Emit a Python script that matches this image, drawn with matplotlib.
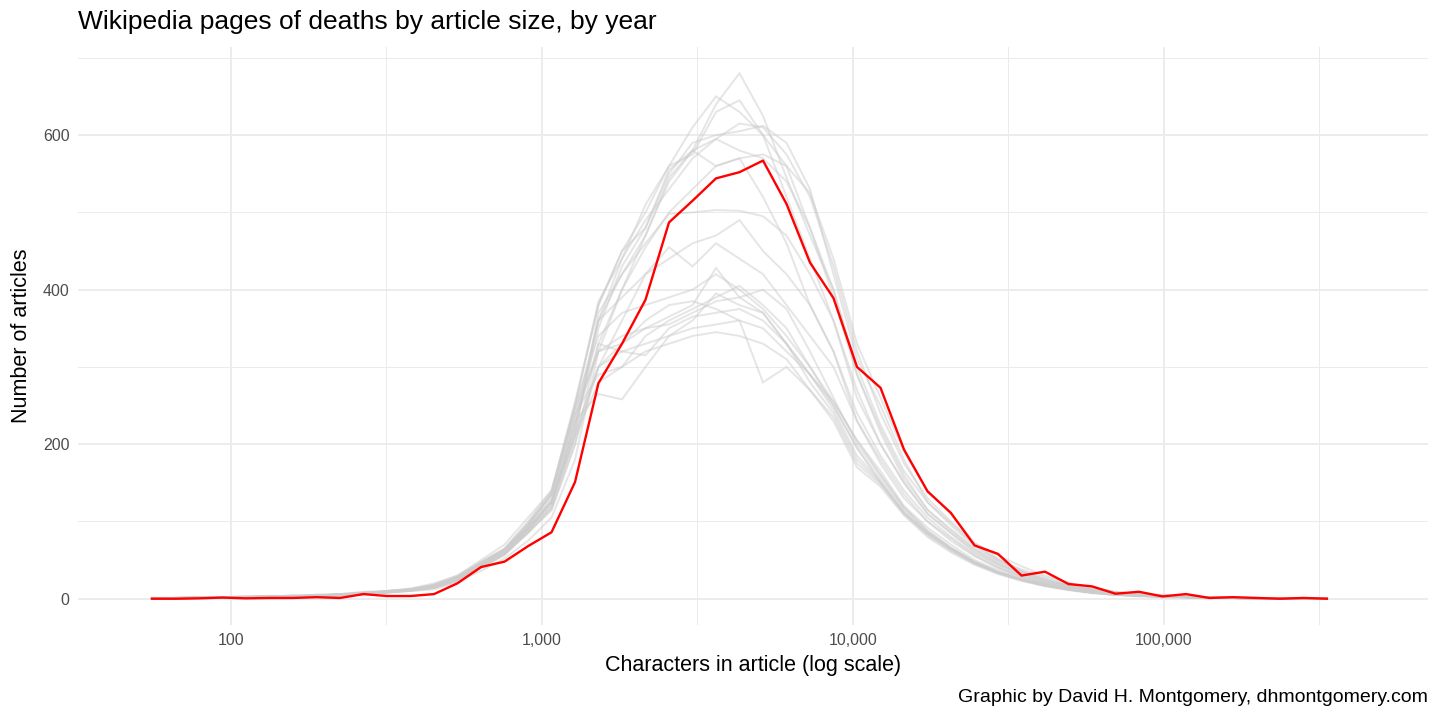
import matplotlib
matplotlib.use("Agg")
import matplotlib.pyplot as plt
from matplotlib.ticker import FixedLocator, NullFormatter

plt.rcParams['font.family'] = ['Liberation Sans', 'DejaVu Sans']

# Bin centres (characters in article)
chars = [55.7, 66.3, 78.9, 93.9, 111.7, 133.0, 158.2, 188.3, 224.1, 266.7,
         317.4, 377.8, 449.5, 535.0, 636.6, 757.6, 901.6, 1073, 1277, 1519,
         1808, 2152, 2561, 3048, 3627, 4315, 5136, 6111, 7273, 8655,
         10300, 12260, 14590, 17360, 20650, 24590, 29260, 34820, 41430, 49310,
         58680, 69820, 83090, 98880, 117700, 140000, 166700, 198300, 236000, 280800,
         334200]

# Highlighted year (red)
highlight = [0, 0, 0.5, 1.5, 0.5, 1, 1, 2, 1, 6, 3.5, 3.5, 6,
             20, 41, 48, 68, 86, 151, 279, 330, 387, 487,
             515, 544, 552, 567, 511, 435, 389, 300, 273, 193,
             139, 111, 69, 58, 30, 35, 19, 16, 6.5, 9,
             3, 6, 1, 2, 1, 0, 1, 0]

# Other years (grey)
year_a = [0,1,1,2,1,3,2,4,3,6,8,10, 14,22,40,58,85,118,210,370,420,470,545,580,640,680,625,545,470,400,300,225,165,125,98,70,50,38,28,20,14, 9,6,4,3,2,1,1,0,1,0]
year_b = [1,0,2,1,2,2,3,3,5,7,9,12, 16,25,45,62,95,135,250,380,450,500,560,610,650,630,600,560,480,390,290,220,160,115,90,65,48,35,25,18,12, 8,5,4,2,2,1,0,1,0,0]
year_c = [0,1,1,1,2,3,4,3,6,6,10,11, 18,30,48,65,100,140,250,385,440,490,530,570,595,615,610,575,520,430,320,240,175,130,100,72,52,36,26,17,12, 7,6,3,3,1,1,1,0,0,0]
year_d = [1,1,2,2,2,4,3,5,4,8,9,12, 15,28,46,64,92,125,220,350,430,480,550,590,600,605,612,590,530,420,310,250,180,125,95,68,50,35,24,17,11, 8,5,4,2,1,1,0,0,0,0]
year_e = [0,0,1,2,1,2,3,4,4,7,8,11, 16,26,42,58,88,125,230,360,440,510,560,575,630,645,600,520,440,360,260,200,150,110,85,62,45,32,22,16,10, 7,4,3,2,1,1,0,0,0,0]
year_f = [1,1,1,2,3,3,3,5,6,9,10,13, 20,30,50,70,105,140,255,380,450,480,555,580,595,580,570,540,480,400,290,215,155,115,88,64,46,33,24,17,12, 8,6,4,3,2,1,1,0,0,0]
year_g = [0,1,2,1,2,3,2,4,5,6,9,10, 14,24,40,58,85,115,200,330,400,470,540,580,560,570,520,460,380,320,230,175,130,100,78,56,40,29,20,14,9, 6,5,3,2,1,1,0,0,0,0]
year_h = [1,0,1,1,2,2,4,3,5,6,8,10, 12,22,36,52,75,105,180,320,400,455,500,530,560,570,575,560,525,440,330,260,190,140,110,72,56,42,30,21,14, 9,6,5,3,2,1,1,1,0,0]
year_i = [0,1,1,2,2,3,3,4,5,7,9,11, 15,25,44,62,90,125,220,360,420,460,498,500,503,502,495,470,420,360,270,200,150,110,85,60,44,32,22,15,10, 7,5,3,2,2,1,0,0,0,0]
year_j = [1,1,2,1,2,2,3,4,6,7,10,12, 18,28,46,64,96,135,240,360,390,420,440,460,470,490,450,420,380,320,240,185,140,105,80,58,42,30,21,15,10, 6,4,3,2,1,1,1,0,0,0]
year_k = [0,1,1,1,2,3,3,4,5,6,8,11, 14,24,40,56,86,115,200,300,360,420,455,430,460,440,420,380,340,300,230,180,135,100,75,55,40,28,20,14,9, 6,4,3,2,1,1,0,0,0,0]
year_l = [1,1,1,2,2,3,4,5,5,8,9,12, 16,26,44,60,90,125,210,300,330,350,365,380,428,390,370,330,290,255,205,165,120,92,70,50,37,27,19,13,9, 6,4,3,2,1,1,0,0,0,0]
year_m = [0,1,2,1,2,3,3,4,6,7,10,13, 18,28,46,62,95,135,240,290,300,340,360,375,390,405,380,350,300,250,195,150,112,85,65,47,34,25,18,12,8, 5,4,3,2,1,1,0,0,0,0]
year_n = [1,0,1,2,2,2,3,4,5,6,8,11, 15,25,42,58,88,120,230,265,258,300,340,360,395,380,370,330,280,240,180,150,110,84,64,46,34,24,17,12,8, 5,4,3,2,1,1,0,0,0,0]
year_o = [0,1,1,2,3,3,3,5,5,7,9,12, 16,27,45,62,92,130,235,320,340,350,355,370,385,390,400,375,320,260,200,160,118,88,66,48,35,25,18,12,8, 6,4,3,2,1,1,1,0,0,0]
year_p = [1,1,2,1,2,3,4,4,6,7,9,12, 17,28,47,64,96,135,245,320,330,360,380,385,375,360,350,320,290,250,195,155,115,86,65,47,34,25,17,12,8, 5,4,2,2,1,1,0,0,0,0]
year_q = [0,1,1,2,2,3,3,4,5,6,9,11, 15,26,43,60,90,125,215,300,320,330,340,350,355,360,280,300,270,235,175,148,110,82,62,45,33,24,17,12,8, 5,4,3,2,1,1,0,0,0,0]
year_r = [1,1,1,2,2,3,4,4,5,7,8,11, 15,25,42,58,88,120,210,280,300,320,330,340,345,340,330,310,270,230,170,145,108,80,60,44,32,23,16,11,7, 5,3,2,2,1,1,0,0,0,0]
year_s = [0,1,2,1,2,3,3,5,5,8,10,12, 17,28,46,64,98,138,250,340,370,380,390,400,420,400,375,340,300,255,205,160,118,88,66,48,35,25,18,12,8, 6,4,3,2,1,1,0,0,0,0]
year_t = [1,1,1,2,3,3,3,4,6,6,9,12, 16,26,44,62,92,128,225,330,320,315,350,365,370,375,360,330,290,245,185,152,112,84,63,46,33,24,17,12,8, 5,4,2,2,1,1,0,0,0,0]

other_years = [year_a, year_b, year_c, year_d, year_e, year_f, year_g, year_h, year_i, year_j,
               year_k, year_l, year_m, year_n, year_o, year_p, year_q, year_r, year_s, year_t]

x_ticks = [100, 1000, 10000, 100000]
x_tick_labels = ["100", "1,000", "10,000", "100,000"]
x_minor = [10**1.5, 10**2.5, 10**3.5, 10**4.5, 10**5.5]
y_ticks = [0, 200, 400, 600]
y_minor = [100, 300, 500, 700]

fig = plt.figure(figsize=(14.4, 7.2), dpi=100)
W, H = 1440, 720
ax = fig.add_axes([78 / W, (H - 625) / H, (1428 - 78) / W, (625 - 47) / H])

for ys in other_years:
    ax.plot(chars, ys, color='#CCCCCC', alpha=0.5, linewidth=1.4, solid_joinstyle='miter')
ax.plot(chars, highlight, color='#FF0000', linewidth=1.7, zorder=5)

ax.set_xscale('log')
ax.set_xlim(10**(2 + (78 - 231) / 311), 10**(2 + (1428 - 231) / 311))
ax.set_ylim(-34, 714)

ax.xaxis.set_major_locator(FixedLocator(x_ticks))
ax.set_xticklabels(x_tick_labels)
ax.xaxis.set_minor_locator(FixedLocator(x_minor))
ax.xaxis.set_minor_formatter(NullFormatter())
ax.yaxis.set_major_locator(FixedLocator(y_ticks))
ax.set_yticklabels([str(v) for v in y_ticks])
ax.yaxis.set_minor_locator(FixedLocator(y_minor))

ax.grid(which='major', color='#EBEBEB', linewidth=1.3)
ax.grid(which='minor', color='#EBEBEB', linewidth=0.7)
ax.set_axisbelow(True)
for s in ax.spines.values():
    s.set_visible(False)
ax.tick_params(which='both', length=0)
ax.tick_params(axis='both', labelsize=11.5, labelcolor='#4D4D4D', pad=6)

ax.set_xlabel("Characters in article (log scale)", fontsize=15.5, color='black', labelpad=5)
ax.set_ylabel("Number of articles", fontsize=15.5, color='black', labelpad=8)

fig.text(78 / W, 1 - 22 / H, "Wikipedia pages of deaths by article size, by year",
         fontsize=19, ha='left', va='center', color='black')
fig.text(1428 / W, 1 - 697 / H, "Graphic by David H. Montgomery, dhmontgomery.com",
         fontsize=14, ha='right', va='center', color='black')

fig.savefig("out.png", dpi=100)
